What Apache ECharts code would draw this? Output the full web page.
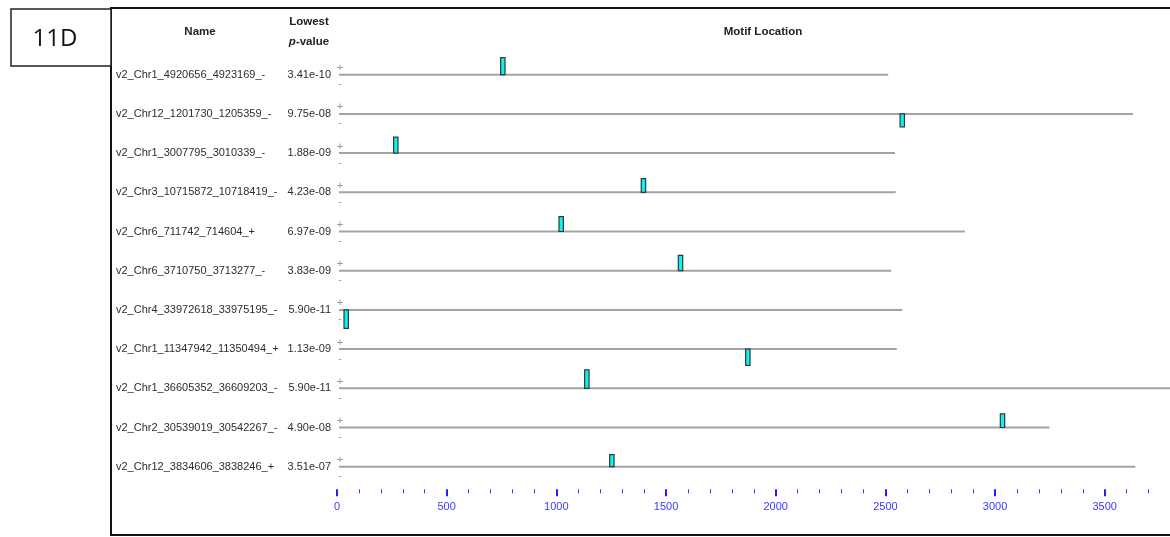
<!DOCTYPE html>
<html>
<head>
<meta charset="utf-8">
<script src="https://cdn.jsdelivr.net/npm/echarts@6/dist/echarts.min.js"></script>
<style>
html,body{margin:0;padding:0;background:#fff;}
#chart{width:1170px;height:537px;}
</style>
</head>
<body>
<div id="chart"></div>
<script>
// ---- data ----
const names = [
  'v2_Chr1_4920656_4923169_-',
  'v2_Chr12_1201730_1205359_-',
  'v2_Chr1_3007795_3010339_-',
  'v2_Chr3_10715872_10718419_-',
  'v2_Chr6_711742_714604_+',
  'v2_Chr6_3710750_3713277_-',
  'v2_Chr4_33972618_33975195_-',
  'v2_Chr1_11347942_11350494_+',
  'v2_Chr1_36605352_36609203_-',
  'v2_Chr2_30539019_30542267_-',
  'v2_Chr12_3834606_3838246_+'
];
const pValues = ['3.41e-10','9.75e-08','1.88e-09','4.23e-08','6.97e-09','3.83e-09','5.90e-11','1.13e-09','5.90e-11','4.90e-08','3.51e-07'];
const seqLengths = [2513, 3629, 2544, 2547, 2862, 2527, 2577, 2552, 3851, 3248, 3640];
const motifStarts = [746, 2567, 258, 1387, 1012, 1556, 32, 1863, 1129, 3024, 1243];
const motifStrands = ['+','-','+','+','+','+','-','-','+','+','+'];
const motifWidth = 20;
const majorTicks = [0, 500, 1000, 1500, 2000, 2500, 3000, 3500];
const axisMax = 3700;

// ---- build ----
const minorTicks = [];
for (let v = 0; v <= axisMax; v += 100) { if (majorTicks.indexOf(v) < 0) minorTicks.push(v); }

const FONT = '"Liberation Sans", Arial, sans-serif';

const lineData = names.map((n, i) => [i, seqLengths[i]]);
const motifData = names.map((n, i) => [i, motifStarts[i], motifStarts[i] + motifWidth, parseFloat(pValues[i]), motifStrands[i]]);

const chart = echarts.init(document.getElementById('chart'), null, {renderer: 'canvas'});

const option = {
  backgroundColor: '#ffffff',
  animation: false,
  grid: {left: 337, right: 21.4, top: 55.1, bottom: 50.7, containLabel: false},
  xAxis: [
    {
      type: 'value', min: 0, max: axisMax, position: 'bottom', offset: 3,
      axisLine: {show: false},
      splitLine: {show: false},
      axisTick: {show: true, customValues: majorTicks, length: 7, lineStyle: {color: '#1f1fff', width: 2}},
      axisLabel: {show: true, customValues: majorTicks, margin: 12, color: '#3a3aff', fontFamily: FONT, fontSize: 11,
        formatter: function (v) { return String(v); }}
    },
    {
      type: 'value', min: 0, max: axisMax, position: 'bottom', offset: 3,
      axisLine: {show: false},
      splitLine: {show: false},
      axisTick: {show: true, customValues: minorTicks, length: 4, lineStyle: {color: '#3a3aff', width: 1}},
      axisLabel: {show: false}
    }
  ],
  yAxis: [
    {
      type: 'category', data: names, inverse: true, position: 'left',
      axisLine: {show: false}, axisTick: {show: false}, splitLine: {show: false},
      axisLabel: {align: 'left', margin: 221, color: '#332a2e', fontFamily: FONT, fontSize: 11}
    },
    {
      type: 'category', data: pValues, inverse: true, position: 'left',
      axisLine: {show: false}, axisTick: {show: false}, splitLine: {show: false},
      axisLabel: {align: 'right', margin: 6, color: '#332a2e', fontFamily: FONT, fontSize: 11}
    }
  ],
  series: [
    {
      type: 'custom', xAxisIndex: 0, yAxisIndex: 0, clip: false, z: 2,
      data: lineData,
      renderItem: function (params, api) {
        const row = api.value(0);
        const p0 = api.coord([0, row]);
        const p1 = api.coord([api.value(1), row]);
        return {
          type: 'group',
          children: [
            {type: 'line', shape: {x1: p0[0] + 2, y1: p0[1], x2: p1[0], y2: p1[1]},
             style: {stroke: '#a3a3a3', lineWidth: 2}},
            {type: 'text', style: {text: '+', x: p0[0] + 3, y: p0[1] - 1, align: 'center', verticalAlign: 'bottom',
              fill: '#8a94c0', font: '11px ' + FONT}},
            {type: 'text', style: {text: '-', x: p0[0] + 3, y: p0[1] + 4, align: 'center', verticalAlign: 'top',
              fill: '#9a9aa8', font: '11px ' + FONT}}
          ]
        };
      }
    },
    {
      type: 'custom', xAxisIndex: 0, yAxisIndex: 0, clip: false, z: 3,
      data: motifData,
      renderItem: function (params, api) {
        const row = api.value(0);
        const a = api.coord([api.value(1), row]);
        const b = api.coord([api.value(2), row]);
        const p = motifData[params.dataIndex][3];
        const strand = motifData[params.dataIndex][4];
        const h = 1.65 * (-Math.log10(p)) + 1.5;
        const y = strand === '+' ? a[1] - h : a[1];
        return {
          type: 'rect',
          shape: {x: a[0], y: y, width: b[0] - a[0], height: h},
          style: {fill: '#10f0f0', stroke: '#2c3a3a', lineWidth: 1.2}
        };
      }
    }
  ],
  graphic: [
    {type: 'rect', shape: {x: 111, y: 8, width: 1075, height: 527}, style: {fill: 'none', stroke: '#111', lineWidth: 2}, z: 10},
    {type: 'rect', shape: {x: 11, y: 9, width: 100, height: 57}, style: {fill: '#fff', stroke: '#222', lineWidth: 1.5}, z: 11},
    {type: 'text', style: {text: '11D', x: 55, y: 39, align: 'center', verticalAlign: 'middle', fill: '#111', font: '24px "Open Sans", "Liberation Sans", sans-serif'}, z: 12},
    {type: 'text', style: {text: 'Name', x: 200, y: 32, align: 'center', verticalAlign: 'middle', fill: '#222', font: 'bold 11.5px ' + FONT}, z: 12},
    {type: 'text', style: {text: 'Lowest', x: 309, y: 22, align: 'center', verticalAlign: 'middle', fill: '#222', font: 'bold 11.5px ' + FONT}, z: 12},
    {type: 'text', style: {text: '{i|p}{b|-value}', x: 309, y: 42, align: 'center', verticalAlign: 'middle', fill: '#222',
      rich: {i: {font: 'italic bold 11.5px ' + FONT, fill: '#222'}, b: {font: 'bold 11.5px ' + FONT, fill: '#222'}}}, z: 12},
    {type: 'text', style: {text: 'Motif Location', x: 763, y: 32, align: 'center', verticalAlign: 'middle', fill: '#222', font: 'bold 11.5px ' + FONT}, z: 12}
  ]
};
chart.setOption(option);
</script>
</body>
</html>
